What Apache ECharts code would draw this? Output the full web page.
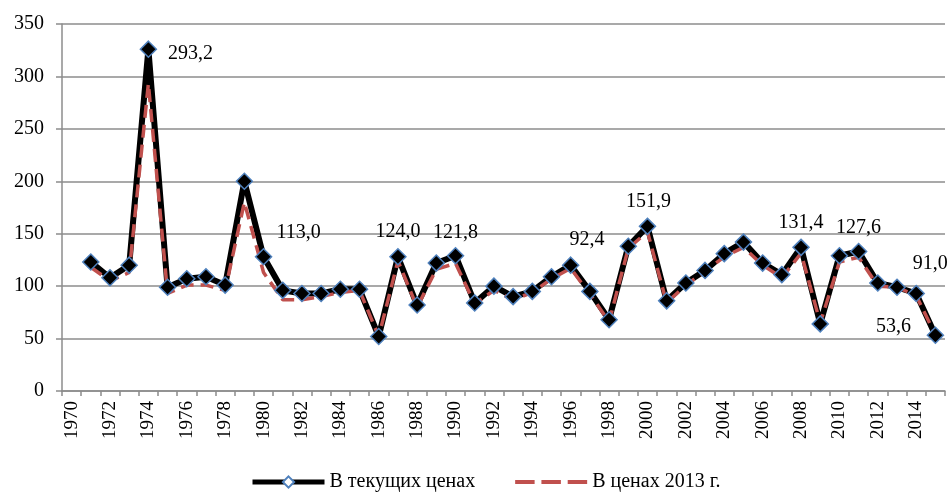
<!DOCTYPE html>
<html>
<head>
<meta charset="utf-8">
<script src="https://cdn.jsdelivr.net/npm/echarts@6/dist/echarts.min.js"></script>
<style>
  html, body { margin: 0; padding: 0; background: #fff; }
  #chart { width: 950px; height: 492px; }
</style>
</head>
<body>
<div id="chart"></div>
<script>
// years 1970..2015, 1970 has no value
let years = []
for (let y = 1970; y <= 2015; y++) years.push(String(y))

let currentPrices = [null,
  123, 108, 120, 326, 99, 107, 109, 101, 200, 128,
  96, 93, 93, 97, 97, 52, 128, 82, 122, 129,
  84, 100, 90, 95, 109, 120, 95, 68, 138, 157,
  86, 103, 115, 131, 142, 122, 111, 137, 64, 129,
  133, 103, 99, 93, 53.2]

let prices2013 = [null,
  118, 105, 113, 293.2, 93, 101, 101, 96, 180, 113.0,
  87, 87, 90, 94, 96, 52, 124.0, 80, 116, 121.8,
  83, 96, 87, 94, 107, 117, 92.4, 66, 136, 151.9,
  84, 101, 114, 128, 137, 120, 108, 131.4, 65, 123,
  127.6, 100, 99, 91.0, 53.6]

let labelYears = ['1974', '1980', '1987', '1990', '1997', '2000', '2008', '2011', '2014', '2015']

// label placement (dx, dy from the point)
let labelOffsets = {
  '1974': [42, -30], '1980': [35, -40], '1987': [0, -29], '1990': [0, -31],
  '1997': [-3, -54], '2000': [1, -30], '2008': [0, -30], '2011': [0, -29],
  '2014': [14, -32], '2015': [-42, -8]
}

let font = '"Liberation Serif", "Times New Roman", serif'
let gridColor = '#8c8c8c'
// three dashes for the legend of the dashed series
let dashIcon = 'path://M0,0L0,0Z M0,5H20V9H0Z M27,5H47V9H27Z M54,5H74V9H54Z M0,14L0,14Z'

let redData = prices2013.map(function (v, i) {
  let yr = years[i]
  if (labelYears.indexOf(yr) < 0) return v
  return {
    value: v,
    label: {
      show: true,
      position: 'inside',
      offset: labelOffsets[yr],
      formatter: v.toFixed(1).replace('.', ','),
      color: '#000',
      fontFamily: font,
      fontSize: 20
    }
  }
})

let chart = echarts.init(document.getElementById('chart'))
chart.setOption({
  animation: false,
  grid: { left: 62, right: 5, top: 24, bottom: 101 },
  legend: {
    bottom: -5,
    left: 245,
    itemWidth: 72,
    itemHeight: 14,
    itemGap: 40,
    textStyle: { fontFamily: font, fontSize: 20, color: '#000' },
    lineStyle: { width: 5 },
    data: [
      { name: 'В текущих ценах', itemStyle: { color: '#fff', borderColor: '#4f81bd', borderWidth: 2 } },
      { name: 'В ценах 2013 г.', icon: dashIcon }
    ]
  },
  xAxis: {
    type: 'category',
    data: years,
    boundaryGap: true,
    axisLine: { lineStyle: { color: gridColor, width: 1.5 } },
    axisTick: { show: true, interval: 0, length: 5, lineStyle: { color: gridColor, width: 1.5 } },
    axisLabel: {
      interval: 1,
      rotate: 90,
      margin: 10,
      fontFamily: font,
      fontSize: 19,
      color: '#000'
    },
    splitLine: { show: false }
  },
  yAxis: {
    type: 'value',
    min: 0,
    max: 350,
    interval: 50,
    axisLine: { show: true, lineStyle: { color: gridColor, width: 1.5 } },
    axisTick: { show: true, length: 6, lineStyle: { color: gridColor, width: 1.5 } },
    axisLabel: { margin: 18, fontFamily: font, fontSize: 20, color: '#000' },
    splitLine: { lineStyle: { color: gridColor, width: 1.5 } }
  },
  series: [
    {
      name: 'В текущих ценах',
      type: 'line',
      data: currentPrices,
      symbol: 'diamond',
      symbolSize: 16,
      showSymbol: true,
      showAllSymbol: true,
      lineStyle: { color: '#000', width: 6 },
      itemStyle: { color: '#000', borderColor: '#4f81bd', borderWidth: 1.5 }
    },
    {
      name: 'В ценах 2013 г.',
      type: 'line',
      data: redData,
      symbol: 'circle',
      symbolSize: 0.1,
      showSymbol: true,
      showAllSymbol: true,
      lineStyle: { color: '#c0504d', width: 3.5, type: [13, 7] },
      itemStyle: { color: '#c0504d' }
    }
  ]
})
</script>
</body>
</html>
